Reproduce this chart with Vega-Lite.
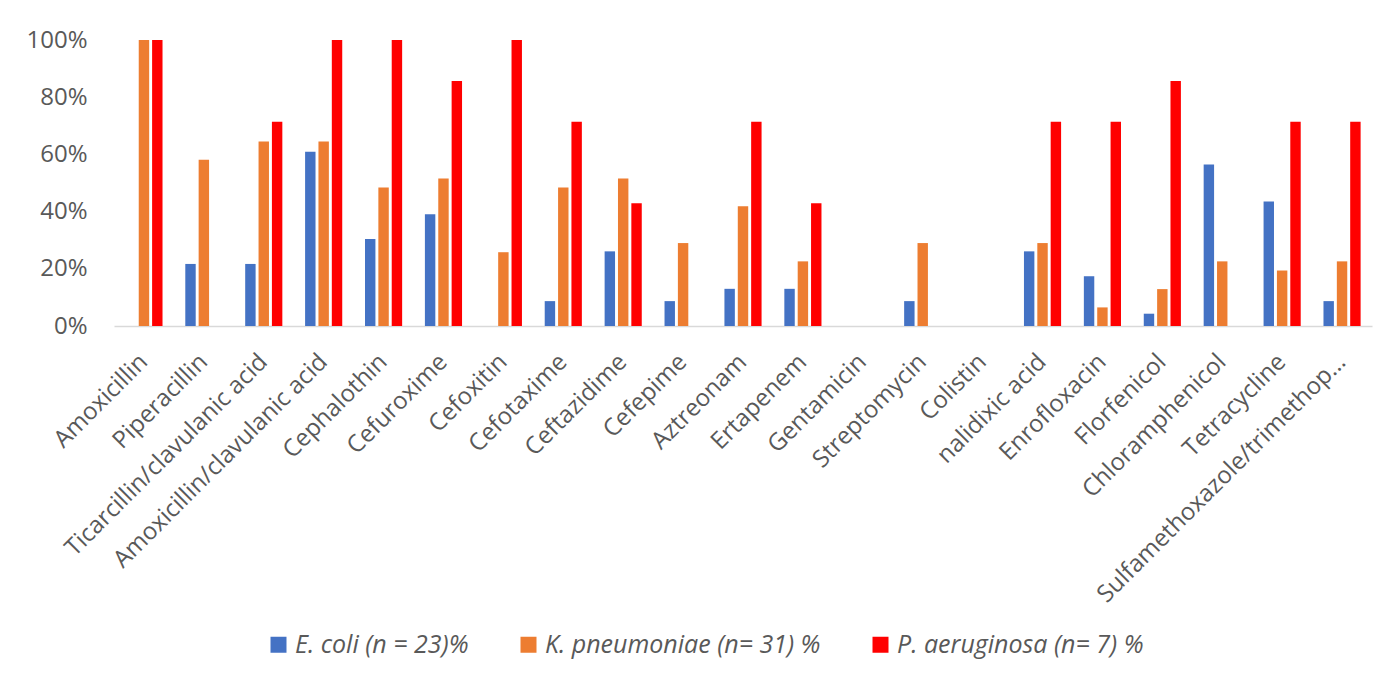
{
  "$schema": "https://vega.github.io/schema/vega-lite/v6.json",
  "width": 1258,
  "height": 286,
  "autosize": {"type": "none"},
  "padding": {"left": 114, "top": 40, "right": 18, "bottom": 350},
  "background": "white",
  "config": {
    "view": {"stroke": null},
    "font": "Open Sans",
    "axis": {"labelFont": "Open Sans", "labelColor": "#595959", "grid": false}
  },
  "data": {
    "values": [
      {"drug": "Amoxicillin", "org": "E. coli (n = 23)%", "v": 0},
      {"drug": "Amoxicillin", "org": "K. pneumoniae (n= 31) %", "v": 1.0},
      {"drug": "Amoxicillin", "org": "P. aeruginosa (n= 7) %", "v": 1.0},
      {"drug": "Piperacillin", "org": "E. coli (n = 23)%", "v": 0.217},
      {"drug": "Piperacillin", "org": "K. pneumoniae (n= 31) %", "v": 0.581},
      {"drug": "Piperacillin", "org": "P. aeruginosa (n= 7) %", "v": 0},
      {"drug": "Ticarcillin/clavulanic acid", "org": "E. coli (n = 23)%", "v": 0.217},
      {"drug": "Ticarcillin/clavulanic acid", "org": "K. pneumoniae (n= 31) %", "v": 0.645},
      {"drug": "Ticarcillin/clavulanic acid", "org": "P. aeruginosa (n= 7) %", "v": 0.714},
      {"drug": "Amoxicillin/clavulanic acid", "org": "E. coli (n = 23)%", "v": 0.609},
      {"drug": "Amoxicillin/clavulanic acid", "org": "K. pneumoniae (n= 31) %", "v": 0.645},
      {"drug": "Amoxicillin/clavulanic acid", "org": "P. aeruginosa (n= 7) %", "v": 1.0},
      {"drug": "Cephalothin", "org": "E. coli (n = 23)%", "v": 0.304},
      {"drug": "Cephalothin", "org": "K. pneumoniae (n= 31) %", "v": 0.484},
      {"drug": "Cephalothin", "org": "P. aeruginosa (n= 7) %", "v": 1.0},
      {"drug": "Cefuroxime", "org": "E. coli (n = 23)%", "v": 0.391},
      {"drug": "Cefuroxime", "org": "K. pneumoniae (n= 31) %", "v": 0.516},
      {"drug": "Cefuroxime", "org": "P. aeruginosa (n= 7) %", "v": 0.857},
      {"drug": "Cefoxitin", "org": "E. coli (n = 23)%", "v": 0},
      {"drug": "Cefoxitin", "org": "K. pneumoniae (n= 31) %", "v": 0.258},
      {"drug": "Cefoxitin", "org": "P. aeruginosa (n= 7) %", "v": 1.0},
      {"drug": "Cefotaxime", "org": "E. coli (n = 23)%", "v": 0.087},
      {"drug": "Cefotaxime", "org": "K. pneumoniae (n= 31) %", "v": 0.484},
      {"drug": "Cefotaxime", "org": "P. aeruginosa (n= 7) %", "v": 0.714},
      {"drug": "Ceftazidime", "org": "E. coli (n = 23)%", "v": 0.261},
      {"drug": "Ceftazidime", "org": "K. pneumoniae (n= 31) %", "v": 0.516},
      {"drug": "Ceftazidime", "org": "P. aeruginosa (n= 7) %", "v": 0.429},
      {"drug": "Cefepime", "org": "E. coli (n = 23)%", "v": 0.087},
      {"drug": "Cefepime", "org": "K. pneumoniae (n= 31) %", "v": 0.29},
      {"drug": "Cefepime", "org": "P. aeruginosa (n= 7) %", "v": 0},
      {"drug": "Aztreonam", "org": "E. coli (n = 23)%", "v": 0.13},
      {"drug": "Aztreonam", "org": "K. pneumoniae (n= 31) %", "v": 0.419},
      {"drug": "Aztreonam", "org": "P. aeruginosa (n= 7) %", "v": 0.714},
      {"drug": "Ertapenem", "org": "E. coli (n = 23)%", "v": 0.13},
      {"drug": "Ertapenem", "org": "K. pneumoniae (n= 31) %", "v": 0.226},
      {"drug": "Ertapenem", "org": "P. aeruginosa (n= 7) %", "v": 0.429},
      {"drug": "Gentamicin", "org": "E. coli (n = 23)%", "v": 0},
      {"drug": "Gentamicin", "org": "K. pneumoniae (n= 31) %", "v": 0},
      {"drug": "Gentamicin", "org": "P. aeruginosa (n= 7) %", "v": 0},
      {"drug": "Streptomycin", "org": "E. coli (n = 23)%", "v": 0.087},
      {"drug": "Streptomycin", "org": "K. pneumoniae (n= 31) %", "v": 0.29},
      {"drug": "Streptomycin", "org": "P. aeruginosa (n= 7) %", "v": 0},
      {"drug": "Colistin", "org": "E. coli (n = 23)%", "v": 0},
      {"drug": "Colistin", "org": "K. pneumoniae (n= 31) %", "v": 0},
      {"drug": "Colistin", "org": "P. aeruginosa (n= 7) %", "v": 0},
      {"drug": "nalidixic acid", "org": "E. coli (n = 23)%", "v": 0.261},
      {"drug": "nalidixic acid", "org": "K. pneumoniae (n= 31) %", "v": 0.29},
      {"drug": "nalidixic acid", "org": "P. aeruginosa (n= 7) %", "v": 0.714},
      {"drug": "Enrofloxacin", "org": "E. coli (n = 23)%", "v": 0.174},
      {"drug": "Enrofloxacin", "org": "K. pneumoniae (n= 31) %", "v": 0.065},
      {"drug": "Enrofloxacin", "org": "P. aeruginosa (n= 7) %", "v": 0.714},
      {"drug": "Florfenicol", "org": "E. coli (n = 23)%", "v": 0.043},
      {"drug": "Florfenicol", "org": "K. pneumoniae (n= 31) %", "v": 0.129},
      {"drug": "Florfenicol", "org": "P. aeruginosa (n= 7) %", "v": 0.857},
      {"drug": "Chloramphenicol", "org": "E. coli (n = 23)%", "v": 0.565},
      {"drug": "Chloramphenicol", "org": "K. pneumoniae (n= 31) %", "v": 0.226},
      {"drug": "Chloramphenicol", "org": "P. aeruginosa (n= 7) %", "v": 0},
      {"drug": "Tetracycline", "org": "E. coli (n = 23)%", "v": 0.435},
      {"drug": "Tetracycline", "org": "K. pneumoniae (n= 31) %", "v": 0.194},
      {"drug": "Tetracycline", "org": "P. aeruginosa (n= 7) %", "v": 0.714},
      {"drug": "Sulfamethoxazole/trimethop…", "org": "E. coli (n = 23)%", "v": 0.087},
      {"drug": "Sulfamethoxazole/trimethop…", "org": "K. pneumoniae (n= 31) %", "v": 0.226},
      {"drug": "Sulfamethoxazole/trimethop…", "org": "P. aeruginosa (n= 7) %", "v": 0.714}
    ]
  },
  "mark": {"type": "bar"},
  "encoding": {
    "x": {
      "field": "drug",
      "type": "nominal",
      "sort": null,
      "scale": {"paddingInner": 0.38, "paddingOuter": 0.19},
      "axis": {
        "title": null,
        "labelAngle": -45,
        "labelAlign": "right",
        "labelBaseline": "middle",
        "labelFontSize": 24,
        "labelPadding": 32,
        "ticks": false,
        "domainColor": "#D9D9D9",
        "domainWidth": 1.5,
        "labelOverlap": false,
        "labelLimit": 0
      }
    },
    "xOffset": {
      "field": "org",
      "type": "nominal",
      "scale": {"paddingInner": 0.22, "paddingOuter": 0}
    },
    "y": {
      "field": "v",
      "type": "quantitative",
      "scale": {"domain": [0, 1], "nice": false},
      "axis": {
        "title": null,
        "format": ".0%",
        "values": [0, 0.2, 0.4, 0.6, 0.8, 1.0],
        "domain": false,
        "ticks": false,
        "labelPadding": 27,
        "labelFontSize": 24
      }
    },
    "color": {
      "field": "org",
      "type": "nominal",
      "scale": {
        "domain": ["E. coli (n = 23)%", "K. pneumoniae (n= 31) %", "P. aeruginosa (n= 7) %"],
        "range": ["#4472C4", "#ED7D31", "#FF0000"]
      },
      "legend": {
        "title": null,
        "orient": "none",
        "direction": "horizontal",
        "legendX": 152,
        "legendY": 592,
        "padding": 0,
        "symbolType": "square",
        "symbolSize": 256,
        "symbolStrokeWidth": 0,
        "symbolOpacity": 1,
        "labelFont": "Open Sans",
        "labelFontSize": 25,
        "labelFontStyle": "italic",
        "labelColor": "#595959",
        "labelOffset": 4,
        "columnPadding": 47,
        "labelLimit": 0
      }
    }
  }
}
